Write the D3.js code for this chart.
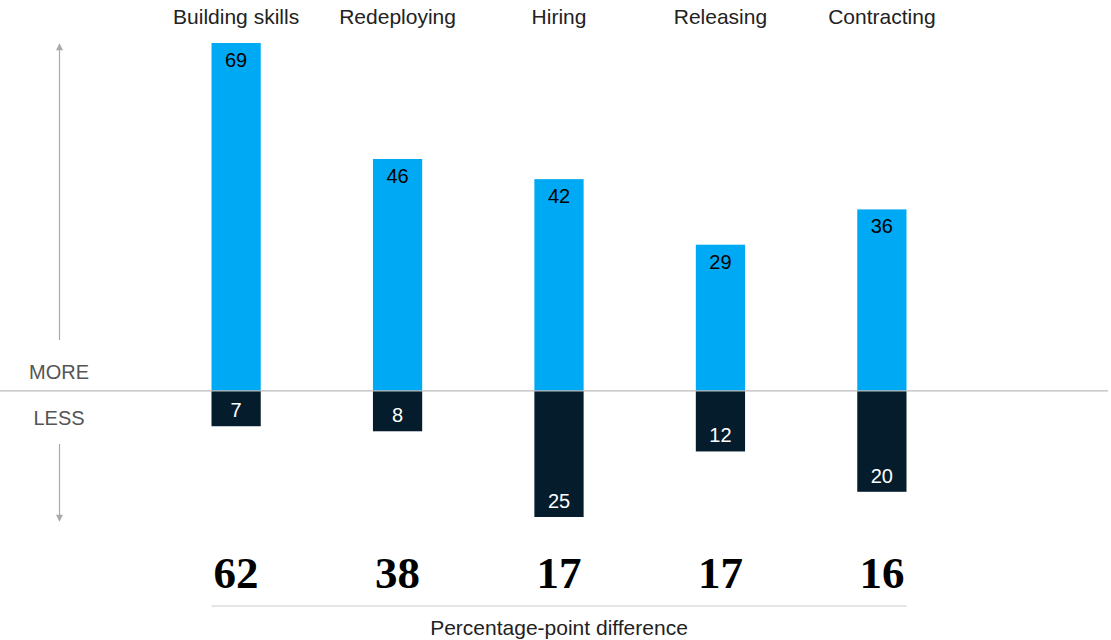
<!DOCTYPE html>
<html>
<head>
<meta charset="utf-8">
<script src="https://cdn.jsdelivr.net/npm/d3@7"></script>
<style>
  body { margin: 0; background: #fff; }
  text { font-family: "Liberation Sans", Arial, sans-serif; }
</style>
</head>
<body>
<div id="chart"></div>
<script>
// Getting the data
var categories = ["Building skills", "Redeploying", "Hiring", "Releasing", "Contracting"];
var moreValues = [69, 46, 42, 29, 36];
var lessValues = [7, 8, 25, 12, 20];
var diffValues = [62, 38, 17, 17, 16];

var W = 1111, H = 640;
var baseY = 391;

var svg = d3.select('#chart').append('svg')
    .attr('width', W)
    .attr('height', H);

// Set the ranges
var x = d3.scaleBand().domain(categories).range([155, 963]).paddingInner(0.695).paddingOuter(0.35);
var y = d3.scaleLinear().domain([-25, 69]).range([baseY + 126, 43]);

// More bars
svg.selectAll('.more')
    .data(categories)
    .enter().append('rect')
    .attr('x', function (d) { return x(d); })
    .attr('width', x.bandwidth())
    .attr('y', function (d, i) { return y(moreValues[i]); })
    .attr('height', function (d, i) { return y(0) - y(moreValues[i]); })
    .attr('fill', '#00A9F4');

// Less bars
svg.selectAll('.less')
    .data(categories)
    .enter().append('rect')
    .attr('x', function (d) { return x(d); })
    .attr('width', x.bandwidth())
    .attr('y', y(0))
    .attr('height', function (d, i) { return y(-lessValues[i]) - y(0); })
    .attr('fill', '#051C2C');

// Baseline
svg.append('line')
    .attr('x1', 0).attr('x2', 1108)
    .attr('y1', y(0)).attr('y2', y(0))
    .attr('stroke', '#bbb').attr('stroke-width', 1.2);

// Value labels
svg.selectAll('.morelbl')
    .data(categories)
    .enter().append('text')
    .attr('x', function (d) { return x(d) + x.bandwidth() / 2; })
    .attr('y', function (d, i) { return y(moreValues[i]) + 24; })
    .attr('text-anchor', 'middle')
    .style('font-size', '20px')
    .attr('fill', '#000')
    .text(function (d, i) { return moreValues[i]; });

svg.selectAll('.lesslbl')
    .data(categories)
    .enter().append('text')
    .attr('x', function (d) { return x(d) + x.bandwidth() / 2; })
    .attr('y', function (d, i) { return y(-lessValues[i]) - 9; })
    .attr('text-anchor', 'middle')
    .style('font-size', '20px')
    .attr('fill', '#fff')
    .text(function (d, i) { return lessValues[i]; });

// Category labels
svg.selectAll('.cat')
    .data(categories)
    .enter().append('text')
    .attr('x', function (d) { return x(d) + x.bandwidth() / 2; })
    .attr('y', 24)
    .attr('text-anchor', 'middle')
    .style('font-size', '21px')
    .attr('fill', '#222')
    .text(function (d) { return d; });

// Difference numbers
svg.selectAll('.diff')
    .data(categories)
    .enter().append('text')
    .attr('x', function (d) { return x(d) + x.bandwidth() / 2; })
    .attr('y', 588)
    .attr('text-anchor', 'middle')
    .style('font-family', '"Liberation Serif", "Times New Roman", serif')
    .style('font-weight', 'bold')
    .style('font-size', '45px')
    .attr('fill', '#000')
    .text(function (d, i) { return diffValues[i]; });

var first = categories[0], last = categories[categories.length - 1];
svg.append('line')
    .attr('x1', x(first)).attr('x2', x(last) + x.bandwidth())
    .attr('y1', 606).attr('y2', 606)
    .attr('stroke', '#ccc').attr('stroke-width', 1.2);

svg.append('text')
    .attr('x', (x(first) + x(last) + x.bandwidth()) / 2)
    .attr('y', 635)
    .attr('text-anchor', 'middle')
    .style('font-size', '21px')
    .attr('fill', '#222')
    .text('Percentage-point difference');

// Arrows
var defs = svg.append('defs');
defs.append('marker')
    .attr('id', 'arr')
    .attr('viewBox', '0 0 10 10')
    .attr('refX', 9).attr('refY', 5)
    .attr('markerWidth', 10).attr('markerHeight', 7)
    .attr('markerUnits', 'userSpaceOnUse')
    .attr('orient', 'auto')
    .append('path')
    .attr('d', 'M0,0 L10,5 L0,10 Z')
    .attr('fill', '#aaa');

svg.append('line')
    .attr('x1', 59.5).attr('x2', 59.5)
    .attr('y1', 340).attr('y2', 44)
    .attr('stroke', '#aaa').attr('stroke-width', 1.2)
    .attr('marker-end', 'url(#arr)');

svg.append('line')
    .attr('x1', 59.5).attr('x2', 59.5)
    .attr('y1', 444).attr('y2', 521)
    .attr('stroke', '#aaa').attr('stroke-width', 1.2)
    .attr('marker-end', 'url(#arr)');

svg.append('text')
    .attr('x', 59).attr('y', 379)
    .attr('text-anchor', 'middle')
    .style('font-size', '20px')
    .attr('fill', '#555')
    .text('MORE');

svg.append('text')
    .attr('x', 59).attr('y', 425)
    .attr('text-anchor', 'middle')
    .style('font-size', '20px')
    .attr('fill', '#555')
    .text('LESS');
</script>
</body>
</html>
